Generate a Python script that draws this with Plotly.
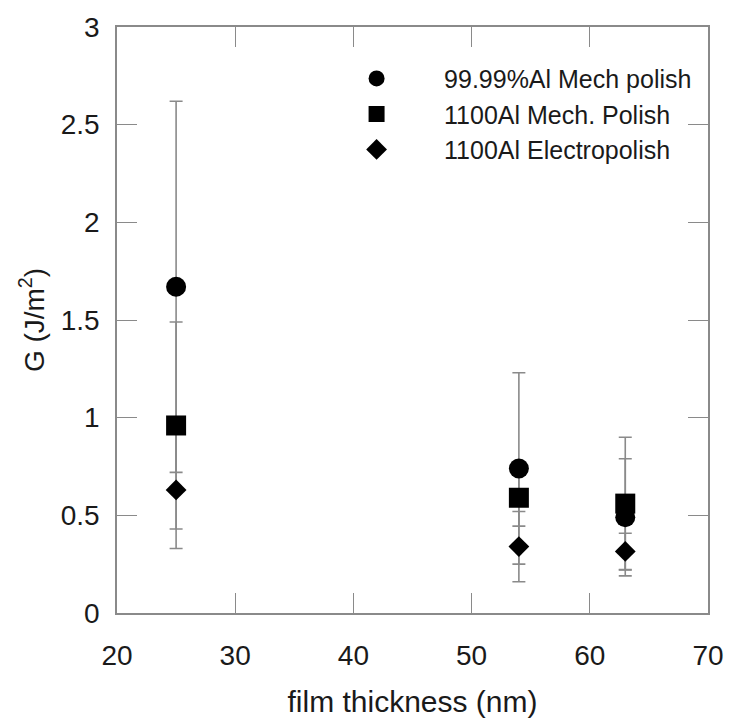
import plotly.graph_objects as go

# Data
thickness = [25, 54, 63]
series_names = ["99.99%Al Mech polish", "1100Al Mech. Polish", "1100Al Electropolish"]
g_mech_9999 = [1.67, 0.74, 0.49]
err_mech_9999 = [0.95, 0.49, 0.30]
g_mech_1100 = [0.96, 0.59, 0.56]
err_mech_1100 = [0.53, 0.145, 0.34]
g_electro_1100 = [0.63, 0.34, 0.315]
err_electro_1100 = [0.30, 0.18, 0.093]

x_ticks = [20, 30, 40, 50, 60, 70]
y_ticks = [0, 0.5, 1, 1.5, 2, 2.5, 3]
y_tick_labels = ["0", "0.5", "1", "1.5", "2", "2.5", "3"]

values = [g_mech_9999, g_mech_1100, g_electro_1100]
errors = [err_mech_9999, err_mech_1100, err_electro_1100]
symbols = ["circle", "square", "diamond"]
sizes = [20, 20, 16]

FONT = "Liberation Sans, Arial, sans-serif"
GRAY = "#8a8a8a"

fig = go.Figure()

# error bars first (behind every marker)
for vals, errs in zip(values, errors):
    fig.add_trace(go.Scatter(
        x=thickness, y=vals, mode="markers",
        marker=dict(size=1, color="rgba(0,0,0,0)"),
        error_y=dict(type="data", array=errs, visible=True,
                     color=GRAY, thickness=1.6, width=6.5),
        showlegend=False, hoverinfo="skip",
    ))

# markers
for name, vals, sym, sz in zip(series_names, values, symbols, sizes):
    fig.add_trace(go.Scatter(
        x=thickness, y=vals, mode="markers", name=name,
        marker=dict(symbol=sym, size=sz, color="black", line=dict(width=0)),
    ))

axis_common = dict(
    showline=True, linecolor=GRAY, linewidth=1.6, mirror="ticks",
    ticks="inside", ticklen=20, tickwidth=1.4, tickcolor=GRAY,
    showgrid=False, zeroline=False,
    tickfont=dict(family=FONT, size=28, color="#1a1a1a"),
)

fig.update_layout(
    width=736, height=726,
    margin=dict(l=117, r=23, t=19, b=113),
    paper_bgcolor="white", plot_bgcolor="white",
    font=dict(family=FONT, color="#1a1a1a"),
    xaxis=dict(range=[20, 70], tickvals=x_ticks,
               title=dict(text="film thickness (nm)", font=dict(family=FONT, size=30), standoff=21),
               ticklabelstandoff=17, **axis_common),
    yaxis=dict(range=[0, 3], tickvals=y_ticks, ticktext=y_tick_labels,
               title=dict(text="G (J/m<sup>2</sup>)", font=dict(family=FONT, size=28), standoff=8),
               ticklabelstandoff=10, **axis_common),
    legend=dict(x=0.325, y=0.951, xanchor="left", yanchor="top",
                bgcolor="rgba(0,0,0,0)", borderwidth=0,
                font=dict(family=FONT, size=25, color="#1a1a1a"),
                itemwidth=125, tracegroupgap=0),
)

fig.write_html("out.html")
